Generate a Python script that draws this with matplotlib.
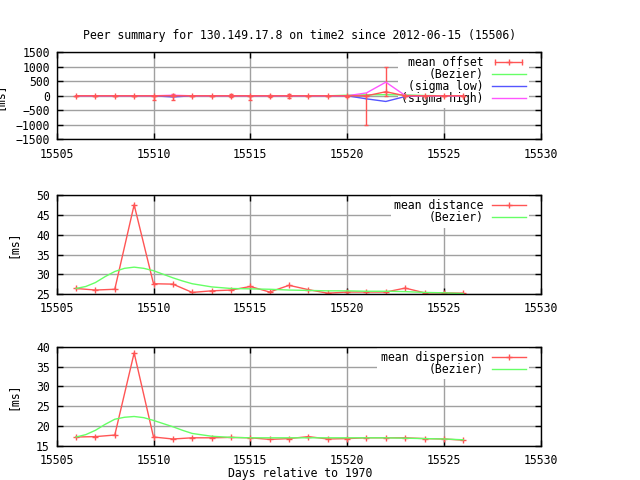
import numpy as np
import matplotlib
matplotlib.use("Agg")
import matplotlib.pyplot as plt
from matplotlib.lines import Line2D
from matplotlib.legend_handler import HandlerLine2D, HandlerTuple
from matplotlib.ticker import MultipleLocator, ScalarFormatter

# data (days relative to 1970)
days = list(range(15506, 15527))

offset_mean = [0, 0, 0, 0, 0, 0, 0, 0, 0, 0, 0, 0, 0, 0, 0, 0, 140, 0, 0, 0, 0]
offset_low = [0, 0, 0, 0, -140, -140, 0, 0, -45, -140, -40, -70, 0, 0, -40, -1000, 0, 0, 0, 0, 0]
offset_high = [0, 0, 0, 0, 0, 60, 0, 0, 45, 0, 25, 60, 0, 0, 0, 0, 1000, 0, 0, 0, 0]
offset_bezier = [0, 0, 0, 0, 0, 0, 0, 0, 0, 0, 0, 0, 0, 0, 20, 35, 38, 30, 10, 0, 0]
sigma_low = [0, 0, 0, 0, 0, -40, 0, 0, 0, 0, 0, 0, 0, 0, 0, -105, -195, -25, 0, 0, 0]
sigma_high = [0, 0, 0, 0, 0, 20, 0, 0, 0, 0, 0, 0, 0, 0, 0, 100, 470, 10, 0, 0, 0]

distance = [26.4, 26.0, 26.2, 47.6, 27.6, 27.5, 25.4, 25.8, 26.0, 26.9, 25.5,
            27.2, 26.1, 25.2, 25.5, 25.5, 25.5, 26.5, 25.3, 25.3, 25.2]
dispersion = [17.2, 17.3, 17.7, 38.5, 17.2, 16.7, 17.0, 17.0, 17.1, 17.0, 16.6,
              16.8, 17.3, 16.7, 16.8, 17.0, 17.0, 17.0, 16.8, 16.7, 16.4]

bez_days = [15506, 15506.5, 15507, 15507.5, 15508, 15508.5, 15509, 15509.5, 15510,
            15510.5, 15511, 15511.5, 15512, 15513, 15514, 15515, 15516, 15517, 15518,
            15519, 15520, 15521, 15522, 15523, 15524, 15525, 15526]
distance_bezier = [26.4, 26.9, 27.9, 29.4, 30.7, 31.5, 31.8, 31.5, 30.9, 30.0, 29.1,
                   28.3, 27.6, 26.8, 26.4, 26.3, 26.2, 26.0, 25.9, 25.8, 25.8, 25.7,
                   25.7, 25.6, 25.4, 25.3, 25.1]
dispersion_bezier = [17.2, 17.8, 18.9, 20.4, 21.7, 22.2, 22.4, 22.1, 21.4, 20.6, 19.8,
                     18.9, 18.1, 17.4, 17.1, 17.0, 17.0, 17.0, 17.0, 17.0, 17.0, 17.0,
                     17.0, 16.9, 16.8, 16.7, 16.5]

RED = '#ff5555'
GREEN = '#66ff66'
BLUE = '#5555ff'
MAGENTA = '#ff55ff'
GRID = '#a0a0a0'
FS = 8.3

plt.rcParams['font.family'] = ['DejaVu Sans Mono']
plt.rcParams['font.size'] = FS

fig = plt.figure(figsize=(6.4, 4.8), dpi=100)
left, width = 56.7 / 640, 484 / 640
ax1 = fig.add_axes([left, 1 - 139.3 / 480, width, 87 / 480])
ax2 = fig.add_axes([left, 1 - 294 / 480, width, 98.7 / 480])
ax3 = fig.add_axes([left, 1 - 445.7 / 480, width, 98.7 / 480])


def style(ax, ylo, yhi, ystep, label_x):
    ax.set_xlim(15505, 15530)
    ax.set_ylim(ylo, yhi)
    ax.xaxis.set_major_locator(MultipleLocator(5))
    ax.yaxis.set_major_locator(MultipleLocator(ystep))
    fmt = ScalarFormatter(useOffset=False)
    ax.xaxis.set_major_formatter(fmt)
    ax.set_axisbelow(True)
    ax.grid(True, color=GRID, lw=1)
    ax.tick_params(direction='in', top=True, right=True, length=4, width=1,
                   labelsize=FS, pad=5)
    ax.tick_params(axis='x', pad=6)
    for s in ax.spines.values():
        s.set_linewidth(1)
    ax.set_ylabel('[ms]', fontsize=FS)
    ax.yaxis.set_label_coords(label_x, 0.5)


def key(ax, handles, labels, hmap=None):
    leg = ax.legend(handles, labels, loc='upper right', bbox_to_anchor=(0.9765, 0.995),
                    borderaxespad=0, markerfirst=False, frameon=True, fancybox=False,
                    framealpha=1, edgecolor='none', facecolor='white', handlelength=2.95,
                    handletextpad=0.7, labelspacing=-0.1, borderpad=0.3,
                    handler_map=hmap, fontsize=FS)
    leg.set_zorder(1.5)
    return leg


# top panel: offset
style(ax1, -1500, 1500, 500, -0.107)
ax1.errorbar(days, offset_mean,
             yerr=[np.subtract(offset_mean, offset_low), np.subtract(offset_high, offset_mean)],
             fmt='-+', color=RED, ms=4, lw=1, elinewidth=1, capsize=1.5, zorder=2)
ax1.plot(days, offset_bezier, color=GREEN, lw=1, zorder=2)
ax1.plot(days, sigma_low, color=BLUE, lw=1, zorder=2)
ax1.plot(days, sigma_high, color=MAGENTA, lw=1, zorder=2)
h_caps = Line2D([], [], color=RED, lw=1, marker='|', ms=4)
h_plus = Line2D([], [], color=RED, lw=0, marker='+', ms=4)
key(ax1,
    [(h_caps, h_plus), Line2D([], [], color=GREEN, lw=1),
     Line2D([], [], color=BLUE, lw=1), Line2D([], [], color=MAGENTA, lw=1)],
    ['mean offset', '(Bezier)', '(sigma low)', '(sigma high)'],
    {h_caps: HandlerLine2D(numpoints=2), h_plus: HandlerLine2D(numpoints=1),
     tuple: HandlerTuple(ndivide=1, pad=0)})

# middle panel: distance
style(ax2, 25, 50, 5, -0.077)
ax2.plot(days, distance, color=RED, marker='+', ms=4, lw=1, zorder=2)
ax2.plot(bez_days, distance_bezier, color=GREEN, lw=1, zorder=2)
key(ax2, [Line2D([], [], color=RED, lw=1, marker='+', ms=4), Line2D([], [], color=GREEN, lw=1)],
    ['mean distance', '(Bezier)'])

# bottom panel: dispersion
style(ax3, 15, 40, 5, -0.077)
ax3.plot(days, dispersion, color=RED, marker='+', ms=4, lw=1, zorder=2)
ax3.plot(bez_days, dispersion_bezier, color=GREEN, lw=1, zorder=2)
key(ax3, [Line2D([], [], color=RED, lw=1, marker='+', ms=4), Line2D([], [], color=GREEN, lw=1)],
    ['mean dispersion', '(Bezier)'])

fig.text(300 / 640, 1 - 35 / 480, 'Peer summary for 130.149.17.8 on time2 since 2012-06-15 (15506)',
         ha='center', va='center', fontsize=FS)
fig.text(300 / 640, 1 - 473 / 480, 'Days relative to 1970', ha='center', va='center', fontsize=FS)

fig.savefig('out.png', dpi=100)
